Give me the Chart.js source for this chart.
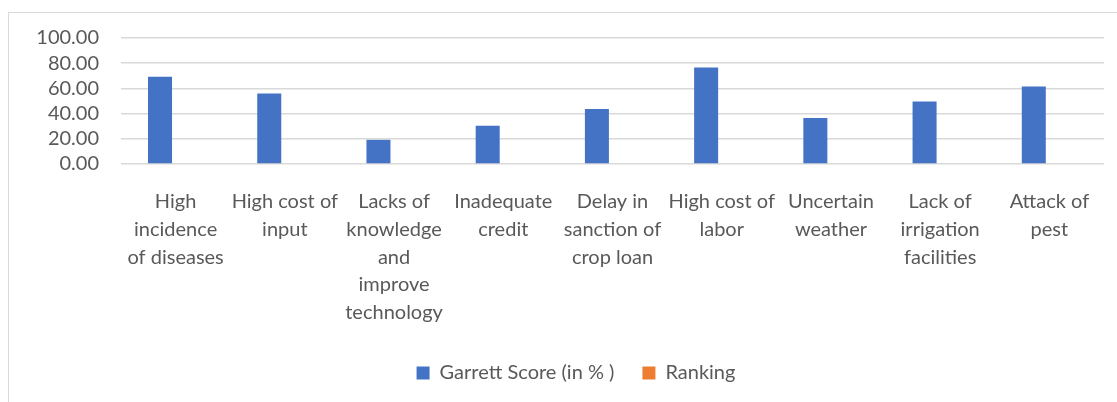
<!DOCTYPE html>
<html>
<head>
<meta charset="utf-8">
<script src="https://cdn.jsdelivr.net/npm/chart.js@4/dist/chart.umd.min.js"></script>
<style>
  html, body { margin: 0; padding: 0; background: #fff; overflow: hidden; }
  #wrap { position: relative; width: 1117px; height: 402px; }
  #frame { position: absolute; left: 8px; top: 12px; width: 1200px; height: 500px; border: 1.5px solid #d9d9d9; box-sizing: border-box; }
  canvas { position: absolute; left: 0; top: 0; }
</style>
</head>
<body>
<div id="wrap">
  <div id="frame"></div>
  <canvas id="c" width="1117" height="402"></canvas>
</div>
<script>
const categories = [
  ["High", "incidence", "of diseases"],
  ["High cost of", "input"],
  ["Lacks of", "knowledge", "and", "improve", "technology"],
  ["Inadequate", "credit"],
  ["Delay in", "sanction of", "crop loan"],
  ["High cost of", "labor"],
  ["Uncertain", "weather"],
  ["Lack of", "irrigation", "facilities"],
  ["Attack of", "pest"]
];
const garrettScore = [69.3, 56.0, 19.2, 30.4, 43.7, 76.5, 36.5, 49.6, 61.6];
const ranking = [null, null, null, null, null, null, null, null, null];
const yTicks = [0, 20, 40, 60, 80, 100];

const FONT = 'Lato, "Open Sans", sans-serif';
const GREY = '#595959';

const shiftLegend = {
  id: 'shiftLegend',
  afterLayout(chart) {
    if (chart.legend) { chart.legend.left += 24; chart.legend.right += 24; }
  }
};

new Chart(document.getElementById('c'), {
  type: 'bar',
  data: {
    labels: categories,
    datasets: [
      { label: 'Garrett Score (in % )', data: garrettScore, backgroundColor: '#4472C4',
        categoryPercentage: 0.571, barPercentage: 0.77 },
      { label: 'Ranking', data: ranking, backgroundColor: '#ED7D31',
        categoryPercentage: 0.571, barPercentage: 0.77 }
    ]
  },
  plugins: [shiftLegend],
  options: {
    responsive: false,
    animation: false,
    layout: { padding: { left: 0, right: 13, top: 38, bottom: 9 } },
    plugins: {
      tooltip: { enabled: false },
      legend: {
        position: 'bottom',
        labels: {
          font: { family: FONT, size: 20 },
          color: GREY,
          boxWidth: 13,
          boxHeight: 13,
          padding: 28
        }
      }
    },
    scales: {
      x: {
        grid: { display: false, drawTicks: false },
        border: { display: false },
        ticks: {
          color: GREY,
          font: { family: FONT, size: 20, lineHeight: 1.385 },
          padding: 24,
          maxRotation: 0,
          autoSkip: false
        },
        afterFit: (s) => { s.height = 171; }
      },
      y: {
        min: 0, max: 100,
        afterBuildTicks: (s) => { s.ticks = yTicks.map(v => ({ value: v })); },
        grid: { color: '#d9d9d9', lineWidth: 1.5, drawTicks: false },
        border: { display: false },
        ticks: {
          color: GREY,
          font: { family: FONT, size: 20 },
          padding: 22,
          autoSkip: false,
          callback: (v) => Number(v).toFixed(2)
        },
        afterFit: (s) => { s.width = 121; }
      }
    }
  }
});
</script>
</body>
</html>
